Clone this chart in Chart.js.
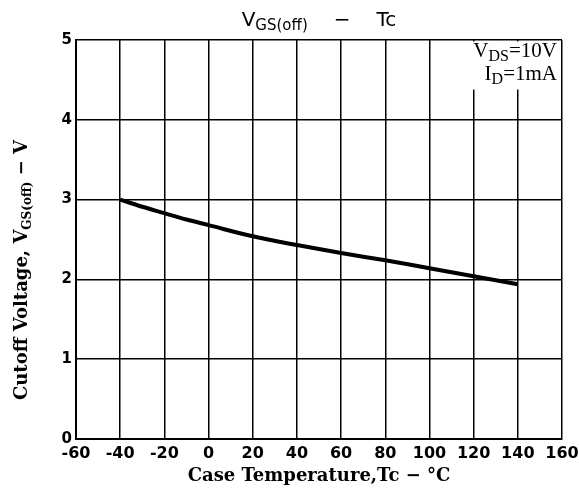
<!DOCTYPE html>
<html><head><meta charset="utf-8">
<script src="https://cdn.jsdelivr.net/npm/chart.js@4"></script>
<style>html,body{margin:0;padding:0;background:#fff}#wrap{width:579px;height:488px}</style>
</head><body><div id="wrap"><canvas id="c" width="579" height="488"></canvas></div>
<script>
// Data
const temperatures = [-40, -30, -20, -10, 0, 20, 40, 60, 80, 100, 120, 140];
const cutoffVoltage = [3.00, 2.91, 2.83, 2.75, 2.68, 2.54, 2.43, 2.33, 2.24, 2.14, 2.04, 1.94];
const xTickValues = [-60, -40, -20, 0, 20, 40, 60, 80, 100, 120, 140, 160];
const yTickValues = [0, 1, 2, 3, 4, 5];
const titleParts = ['V', 'GS(off)', '−', 'Tc'];
const conditionLines = [['V', 'DS', '=10V'], ['I', 'D', '=1mA']];
const xAxisTitle = 'Case Temperature,Tc − °C';
const yAxisTitleParts = ['Cutoff Voltage, V', 'GS(off)', ' − V'];

const textPlugin = {
  id: 'texts',
  afterDraw(chart) {
    const ctx = chart.ctx, ca = chart.chartArea;
    ctx.save();
    ctx.fillStyle = '#000';
    ctx.textBaseline = 'alphabetic';
    ctx.textAlign = 'left';
    // Title
    const big = '20px "DejaVu Sans"', small = '15px "DejaVu Sans"';
    ctx.font = big; const w1 = ctx.measureText(titleParts[0]).width;
    ctx.font = small; const w2 = ctx.measureText(titleParts[1]).width;
    ctx.font = big; const gap = 26;
    const w3 = ctx.measureText(titleParts[2]).width, w4 = ctx.measureText(titleParts[3]).width;
    const tw = w1 + w2 + gap + w3 + gap + w4;
    let x = (ca.left + ca.right) / 2 - tw / 2;
    const by = 26;
    ctx.font = big; ctx.fillText(titleParts[0], x, by); x += w1;
    ctx.font = small; ctx.fillText(titleParts[1], x, by + 4); x += w2 + gap;
    ctx.font = big; ctx.fillText(titleParts[2], x, by); x += w3 + gap;
    ctx.fillText(titleParts[3], x, by);

    // Condition box
    ctx.fillStyle = '#fff';
    ctx.fillRect(450, ca.top + 1.5, ca.right - 450 - 1.5, 48);
    ctx.fillStyle = '#000';
    const sf = '21px "Liberation Serif"', ss = '16px "Liberation Serif"';
    const bys = [57, 80];
    conditionLines.forEach((ln, i) => {
      ctx.font = sf; const a = ctx.measureText(ln[0]).width, c = ctx.measureText(ln[2]).width;
      ctx.font = ss; const b = ctx.measureText(ln[1]).width;
      let xx = ca.right - 5 - (a + b + c);
      ctx.font = sf; ctx.fillText(ln[0], xx, bys[i]); xx += a;
      ctx.font = ss; ctx.fillText(ln[1], xx, bys[i] + 4); xx += b;
      ctx.font = sf; ctx.fillText(ln[2], xx, bys[i]);
    });

    // X axis title
    ctx.font = 'bold 18px "DejaVu Serif"';
    ctx.textAlign = 'center';
    ctx.fillText(xAxisTitle, (ca.left + ca.right) / 2, 481);

    // Y axis title (rotated)
    ctx.translate(27, 270);
    ctx.rotate(-Math.PI / 2);
    const yf = 'bold 18px "DejaVu Serif"', ys = 'bold 12px "DejaVu Serif"';
    ctx.font = yf; const p1 = ctx.measureText(yAxisTitleParts[0]).width, p3 = ctx.measureText(yAxisTitleParts[2]).width;
    ctx.font = ys; const p2 = ctx.measureText(yAxisTitleParts[1]).width;
    let yx = -(p1 + p2 + p3) / 2;
    ctx.textAlign = 'left';
    ctx.font = yf; ctx.fillText(yAxisTitleParts[0], yx, 0); yx += p1;
    ctx.font = ys; ctx.fillText(yAxisTitleParts[1], yx, 4); yx += p2;
    ctx.font = yf; ctx.fillText(yAxisTitleParts[2], yx, 0);
    ctx.restore();
  }
};

new Chart(document.getElementById('c'), {
  type: 'line',
  data: {
    datasets: [{
      data: temperatures.map((t, i) => ({ x: t, y: cutoffVoltage[i] })),
      borderColor: '#000',
      borderWidth: 4,
      pointRadius: 0,
      cubicInterpolationMode: 'monotone',
      fill: false
    }]
  },
  options: {
    responsive: false,
    devicePixelRatio: 1,
    animation: false,
    layout: { padding: { top: 40, right: 17, left: 0, bottom: 0 } },
    plugins: { legend: { display: false }, title: { display: false }, tooltip: { enabled: false } },
    scales: {
      x: {
        type: 'linear', min: -60, max: 160,
        afterBuildTicks(s) { s.ticks = xTickValues.map(v => ({ value: v })); },
        afterFit(s) { s.height = 49; s.paddingLeft = 0; s.paddingRight = 0; },
        ticks: { color: '#000', padding: 5, maxRotation: 0, autoSkip: false,
          font: { family: '"DejaVu Sans"', size: 16, weight: 'bold' } },
        grid: { color: '#000', lineWidth: 1.5, drawTicks: false },
        border: { color: '#000', width: 2 }
      },
      y: {
        min: 0, max: 5,
        afterBuildTicks(s) { s.ticks = yTickValues.map(v => ({ value: v })); },
        afterFit(s) { s.width = 76; s.paddingTop = 0; s.paddingBottom = 0; },
        ticks: { color: '#000', padding: 4,
          font: { family: '"DejaVu Sans"', size: 15, weight: 'bold' } },
        grid: { color: '#000', lineWidth: 1.5, drawTicks: false },
        border: { color: '#000', width: 2 }
      }
    }
  },
  plugins: [textPlugin]
});
</script>
</body></html>
